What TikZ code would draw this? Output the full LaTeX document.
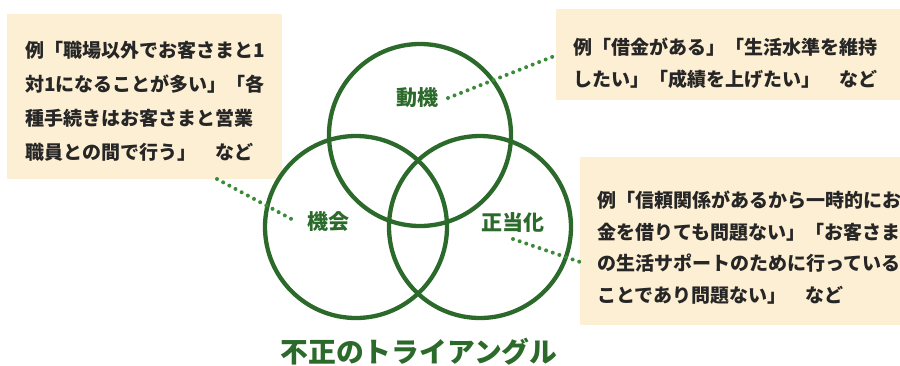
\documentclass[tikz,border=0pt]{standalone}
\usepackage{fontspec}
\setmainfont{Noto Sans CJK JP}
\definecolor{venn}{HTML}{2B6A2B}
\definecolor{dotg}{HTML}{3A8A3A}
\definecolor{boxbg}{HTML}{FDEFD3}
\definecolor{txt}{HTML}{262626}
\tikzset{
  infobox/.style={fill=boxbg, draw=none, anchor=north west, inner sep=0pt},
  infotext/.style={anchor=west, align=left, inner sep=0pt, text=txt, font=\bfseries\fontsize{19}{#1}\selectfont},
  ring/.style={circle, draw=venn, line width=4.3pt, minimum size=182pt, inner sep=0pt},
  ringlabel/.style={text=venn, font=\bfseries\fontsize{21}{25}\selectfont, inner sep=0pt},
  dotline/.style={draw=dotg, line width=4pt, line cap=round, dash pattern=on 0pt off 7pt}
}
\begin{document}
\begin{tikzpicture}[x=1pt,y=-1pt]
\useasboundingbox (0,0) rectangle (900,365);
% boxes
\node[infobox, minimum width=275pt, minimum height=165pt] (b1) at (7,14) {};
\node[infobox, minimum width=344pt, minimum height=91pt] (b2) at (556,9) {};
\node[infobox, minimum width=320pt, minimum height=168pt] (b3) at (580,157) {};
% texts
\node[infotext=34] (t1) at (25,101) {例「職場以外でお客さまと1\\対1になることが多い」「各\\種手続きはお客さまと営業\\職員との間で行う」　など};
\node[infotext=32] (t2) at (573,63) {例「借金がある」「生活水準を維持\\したい」「成績を上げたい」　など};
\node[infotext=31.7] (t3) at (597,247.5) {例「信頼関係があるから一時的にお\\金を借りても問題ない」「お客さま\\の生活サポートのために行っている\\ことであり問題ない」　など};
% circles
\node[ring] (top) at (420,135) {};
\node[ring] (left) at (356,227) {};
\node[ring] (right) at (480,227) {};
% labels
\node[ringlabel] (lmot) at (417,98) {動機};
\node[ringlabel] (lopp) at (328,222) {機会};
\node[ringlabel] (lrat) at (513,223) {正当化};
\node[text=venn, font=\bfseries\fontsize{27.8}{30}\selectfont, inner sep=0pt] (title) at (419,352) {不正のトライアングル};
% connectors
\coordinate (c1a) at (217,179);
\coordinate (c1b) at (297,222);
\coordinate (c2a) at (448,98);
\coordinate (c2b) at (557,55);
\coordinate (c3a) at (513,239);
\coordinate (c3b) at (580,262);
\draw[dotline] (c1a) -- (c1b);
\draw[dotline] (c2a) -- (c2b);
\draw[dotline] (c3a) -- (c3b);
\end{tikzpicture}
\end{document}
